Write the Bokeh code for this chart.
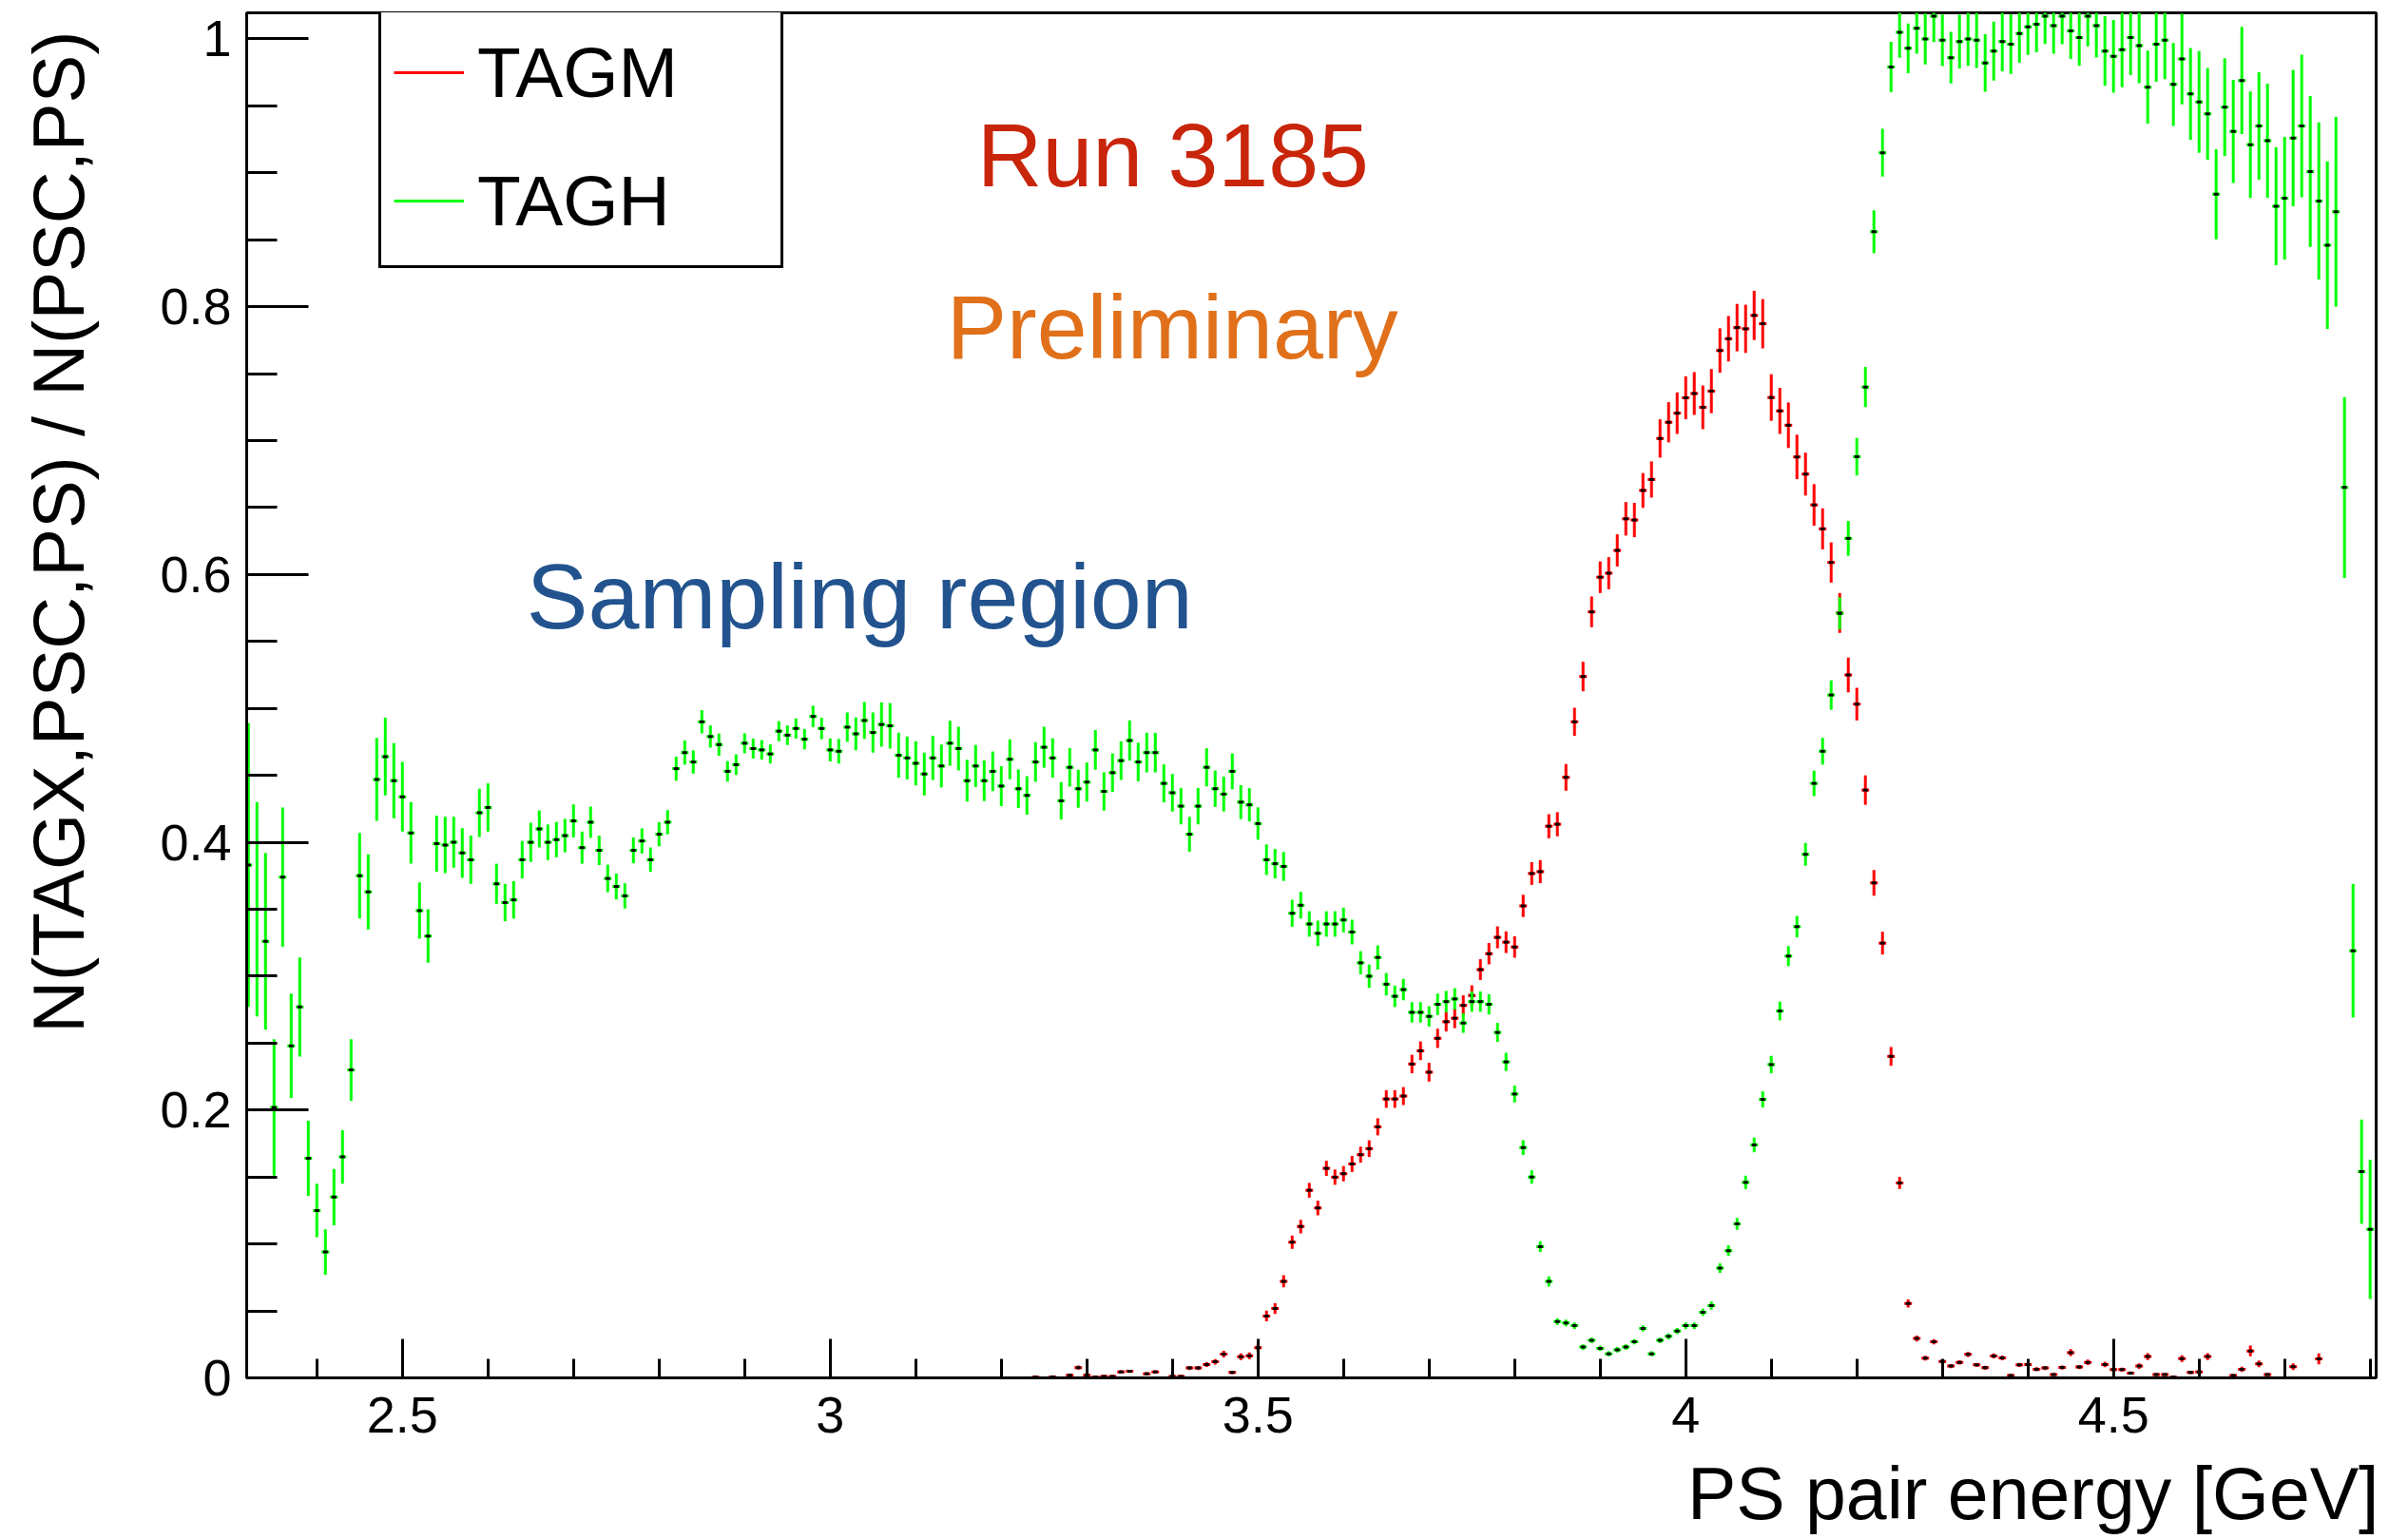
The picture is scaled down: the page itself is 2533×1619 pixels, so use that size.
import math
from bokeh.plotting import figure
from bokeh.models import (Range1d, FixedTicker, CustomJSTickFormatter, Label,
                          Legend, LegendItem, ColumnDataSource, Title)
from bokeh.embed import file_html
from bokeh.resources import INLINE

FONT = "Liberation Sans"

# ---------------- data ----------------
tagh_energy = [
    2.32, 2.33, 2.34, 2.35, 2.36, 2.37, 2.38, 2.39, 2.40, 2.41,
    2.42, 2.43, 2.44, 2.45, 2.46, 2.47, 2.48, 2.49, 2.50, 2.51,
    2.52, 2.53, 2.54, 2.55, 2.56, 2.57, 2.58, 2.59, 2.60, 2.61,
    2.62, 2.63, 2.64, 2.65, 2.66, 2.67, 2.68, 2.69, 2.70, 2.71,
    2.72, 2.73, 2.74, 2.75, 2.76, 2.77, 2.78, 2.79, 2.80, 2.81,
    2.82, 2.83, 2.84, 2.85, 2.86, 2.87, 2.88, 2.89, 2.90, 2.91,
    2.92, 2.93, 2.94, 2.95, 2.96, 2.97, 2.98, 2.99, 3.00, 3.01,
    3.02, 3.03, 3.04, 3.05, 3.06, 3.07, 3.08, 3.09, 3.10, 3.11,
    3.12, 3.13, 3.14, 3.15, 3.16, 3.17, 3.18, 3.19, 3.20, 3.21,
    3.22, 3.23, 3.24, 3.25, 3.26, 3.27, 3.28, 3.29, 3.30, 3.31,
    3.32, 3.33, 3.34, 3.35, 3.36, 3.37, 3.38, 3.39, 3.40, 3.41,
    3.42, 3.43, 3.44, 3.45, 3.46, 3.47, 3.48, 3.49, 3.50, 3.51,
    3.52, 3.53, 3.54, 3.55, 3.56, 3.57, 3.58, 3.59, 3.60, 3.61,
    3.62, 3.63, 3.64, 3.65, 3.66, 3.67, 3.68, 3.69, 3.70, 3.71,
    3.72, 3.73, 3.74, 3.75, 3.76, 3.77, 3.78, 3.79, 3.80, 3.81,
    3.82, 3.83, 3.84, 3.85, 3.86, 3.87, 3.88, 3.89, 3.90, 3.91,
    3.92, 3.93, 3.94, 3.95, 3.96, 3.97, 3.98, 3.99, 4.00, 4.01,
    4.02, 4.03, 4.04, 4.05, 4.06, 4.07, 4.08, 4.09, 4.10, 4.11,
    4.12, 4.13, 4.14, 4.15, 4.16, 4.17, 4.18, 4.19, 4.20, 4.21,
    4.22, 4.23, 4.24, 4.25, 4.26, 4.27, 4.28, 4.29, 4.30, 4.31,
    4.32, 4.33, 4.34, 4.35, 4.36, 4.37, 4.38, 4.39, 4.40, 4.41,
    4.42, 4.43, 4.44, 4.45, 4.46, 4.47, 4.48, 4.49, 4.50, 4.51,
    4.52, 4.53, 4.54, 4.55, 4.56, 4.57, 4.58, 4.59, 4.60, 4.61,
    4.62, 4.63, 4.64, 4.65, 4.66, 4.67, 4.68, 4.69, 4.70, 4.71,
    4.72, 4.73, 4.74, 4.75, 4.76, 4.77, 4.78, 4.79, 4.80,
]
tagh_ratio = [
    0.383, 0.350, 0.326, 0.202, 0.374, 0.248, 0.277, 0.164, 0.125, 0.094,
    0.135, 0.165, 0.230, 0.375, 0.363, 0.447, 0.464, 0.446, 0.434, 0.407,
    0.349, 0.330, 0.399, 0.398, 0.400, 0.392, 0.387, 0.422, 0.426, 0.369,
    0.355, 0.357, 0.387, 0.400, 0.410, 0.400, 0.402, 0.405, 0.416, 0.396,
    0.415, 0.394, 0.373, 0.367, 0.360, 0.394, 0.401, 0.387, 0.406, 0.415,
    0.455, 0.467, 0.460, 0.490, 0.479, 0.473, 0.453, 0.458, 0.474, 0.470,
    0.469, 0.466, 0.483, 0.480, 0.485, 0.477, 0.494, 0.485, 0.469, 0.468,
    0.486, 0.481, 0.491, 0.482, 0.488, 0.487, 0.465, 0.463, 0.459, 0.451,
    0.463, 0.457, 0.474, 0.470, 0.446, 0.457, 0.446, 0.453, 0.442, 0.462,
    0.440, 0.435, 0.460, 0.471, 0.463, 0.431, 0.456, 0.440, 0.445, 0.469,
    0.438, 0.452, 0.461, 0.476, 0.460, 0.467, 0.467, 0.444, 0.437, 0.427,
    0.406, 0.427, 0.456, 0.440, 0.436, 0.453, 0.430, 0.428, 0.414, 0.387,
    0.384, 0.382, 0.347, 0.353, 0.339, 0.332, 0.339, 0.339, 0.342, 0.333,
    0.310, 0.300, 0.314, 0.294, 0.285, 0.290, 0.273, 0.273, 0.270, 0.279,
    0.281, 0.283, 0.265, 0.281, 0.281, 0.279, 0.258, 0.236, 0.212, 0.172,
    0.150, 0.098, 0.072, 0.042, 0.041, 0.039, 0.023, 0.028, 0.022, 0.018,
    0.021, 0.023, 0.027, 0.037, 0.018, 0.028, 0.031, 0.035, 0.039, 0.039,
    0.049, 0.054, 0.082, 0.095, 0.115, 0.146, 0.174, 0.208, 0.234, 0.274,
    0.315, 0.337, 0.391, 0.444, 0.468, 0.510, 0.571, 0.627, 0.688, 0.740,
    0.856, 0.915, 0.979, 1.005, 0.993, 1.008, 1.000, 1.017, 0.999, 0.986,
    0.998, 1.000, 0.999, 0.982, 0.991, 0.998, 0.996, 1.004, 1.009, 1.011,
    1.017, 1.010, 1.017, 1.006, 1.001, 1.017, 1.010, 0.991, 0.987, 0.992,
    1.001, 0.995, 0.964, 0.996, 0.999, 0.966, 0.985, 0.959, 0.953, 0.944,
    0.884, 0.949, 0.931, 0.969, 0.921, 0.935, 0.924, 0.875, 0.881, 0.926,
    0.935, 0.901, 0.879, 0.846, 0.871, 0.665, 0.319, 0.154, 0.111,
]
tagh_error = [
    0.106, 0.080, 0.066, 0.051, 0.052, 0.039, 0.037, 0.028, 0.020, 0.017,
    0.021, 0.020, 0.023, 0.032, 0.028, 0.031, 0.029, 0.028, 0.026, 0.023,
    0.021, 0.020, 0.021, 0.021, 0.019, 0.0185, 0.018, 0.018, 0.018, 0.015,
    0.014, 0.014, 0.014, 0.0146, 0.0138, 0.0133, 0.0132, 0.0125, 0.0123, 0.012,
    0.0117, 0.011, 0.0103, 0.0097, 0.0094, 0.0097, 0.0094, 0.0091, 0.009, 0.009,
    0.009, 0.009, 0.0087, 0.0087, 0.0083, 0.0083, 0.0077, 0.0077, 0.0075, 0.0075,
    0.0073, 0.0071, 0.0075, 0.0073, 0.0075, 0.0076, 0.008, 0.008, 0.0086, 0.0092,
    0.011, 0.0123, 0.0138, 0.015, 0.0166, 0.017, 0.0168, 0.016, 0.0165, 0.016,
    0.0165, 0.016, 0.0168, 0.0163, 0.0156, 0.0157, 0.0152, 0.0148, 0.0149, 0.0149,
    0.0144, 0.0144, 0.0148, 0.0153, 0.0147, 0.014, 0.0144, 0.0142, 0.0146, 0.0148,
    0.0143, 0.0144, 0.0144, 0.015, 0.0144, 0.0148, 0.0148, 0.0142, 0.014, 0.0136,
    0.013, 0.0136, 0.0142, 0.0136, 0.013, 0.0134, 0.0127, 0.0124, 0.0121, 0.0114,
    0.011, 0.0108, 0.0101, 0.010, 0.0095, 0.0095, 0.0095, 0.0095, 0.0092, 0.0092,
    0.0087, 0.0087, 0.009, 0.0084, 0.008, 0.008, 0.0076, 0.0076, 0.0076, 0.008,
    0.008, 0.008, 0.0073, 0.0076, 0.0076, 0.0076, 0.0071, 0.0068, 0.0063, 0.0055,
    0.005, 0.004, 0.0038, 0.0024, 0.0024, 0.0024, 0.002, 0.002, 0.002, 0.0018,
    0.002, 0.002, 0.002, 0.0022, 0.0018, 0.002, 0.0022, 0.0022, 0.0024, 0.0024,
    0.0027, 0.003, 0.0035, 0.004, 0.0045, 0.005, 0.0055, 0.006, 0.0065, 0.007,
    0.0075, 0.008, 0.0085, 0.0095, 0.010, 0.011, 0.012, 0.013, 0.014, 0.015,
    0.016, 0.0178, 0.0188, 0.019, 0.0185, 0.019, 0.019, 0.0194, 0.0193, 0.0193,
    0.020, 0.020, 0.0206, 0.0215, 0.022, 0.0222, 0.0222, 0.0218, 0.021, 0.021,
    0.0208, 0.021, 0.021, 0.021, 0.021, 0.0225, 0.0239, 0.026, 0.0272, 0.028,
    0.028, 0.028, 0.0272, 0.028, 0.029, 0.031, 0.0338, 0.0343, 0.038, 0.0343,
    0.0336, 0.0366, 0.0385, 0.040, 0.0398, 0.0401, 0.0426, 0.044, 0.0458, 0.0509,
    0.0532, 0.0563, 0.0586, 0.0625, 0.0708, 0.0675, 0.050, 0.039, 0.052,
]

tagm_energy = [
    3.24, 3.26, 3.28, 3.29, 3.30, 3.31, 3.32, 3.33, 3.34, 3.35,
    3.37, 3.38, 3.40, 3.41, 3.42, 3.43, 3.44, 3.45, 3.46, 3.47,
    3.48, 3.49, 3.50, 3.51, 3.52, 3.53, 3.54, 3.55, 3.56, 3.57,
    3.58, 3.59, 3.60, 3.61, 3.62, 3.63, 3.64, 3.65, 3.66, 3.67,
    3.68, 3.69, 3.70, 3.71, 3.72, 3.73, 3.74, 3.75, 3.76, 3.77,
    3.78, 3.79, 3.80, 3.81, 3.82, 3.83, 3.84, 3.85, 3.86, 3.87,
    3.88, 3.89, 3.90, 3.91, 3.92, 3.93, 3.94, 3.95, 3.96, 3.97,
    3.98, 3.99, 4.00, 4.01, 4.02, 4.03, 4.04, 4.05, 4.06, 4.07,
    4.08, 4.09, 4.10, 4.11, 4.12, 4.13, 4.14, 4.15, 4.16, 4.17,
    4.18, 4.19, 4.20, 4.21, 4.22, 4.23, 4.24, 4.25, 4.26, 4.27,
    4.28, 4.29, 4.30, 4.31, 4.32, 4.33, 4.34, 4.35, 4.36, 4.37,
    4.38, 4.39, 4.40, 4.41, 4.42, 4.43, 4.44, 4.45, 4.46, 4.47,
    4.49, 4.50, 4.51, 4.52, 4.53, 4.54, 4.55, 4.56, 4.57, 4.58,
    4.59, 4.60, 4.61, 4.64, 4.65, 4.66, 4.67, 4.68, 4.71, 4.74,
]
tagm_ratio = [
    0.0005, 0.0007, 0.0019, 0.0077, 0.0019, 0.0005, 0.0010, 0.0010, 0.0044, 0.0049,
    0.0030, 0.0044, 0.0010, 0.0010, 0.0074, 0.0074, 0.0100, 0.0120, 0.0178, 0.0040,
    0.0158, 0.0165, 0.0226, 0.0462, 0.0518, 0.0721, 0.1013, 0.1130, 0.1401, 0.1269,
    0.1565, 0.1499, 0.1525, 0.1598, 0.1667, 0.1712, 0.1875, 0.2083, 0.2083, 0.2105,
    0.2344, 0.2443, 0.2283, 0.2536, 0.2660, 0.2686, 0.2782, 0.2856, 0.3049, 0.3168,
    0.3290, 0.3254, 0.3218, 0.3525, 0.3767, 0.3781, 0.4120, 0.4135, 0.4485, 0.4900,
    0.5238, 0.5721, 0.5980, 0.6010, 0.6180, 0.6416, 0.6407, 0.6628, 0.6710, 0.7016,
    0.7137, 0.7205, 0.7320, 0.7352, 0.7249, 0.7370, 0.7673, 0.7761, 0.7844, 0.7835,
    0.7935, 0.7873, 0.7322, 0.7222, 0.7115, 0.6878, 0.6750, 0.6520, 0.6341, 0.6090,
    0.5713, 0.5250, 0.5032, 0.4390, 0.3697, 0.3247, 0.2401, 0.1456, 0.0555, 0.0294,
    0.0147, 0.0270, 0.0123, 0.0088, 0.0116, 0.0175, 0.0097, 0.0076, 0.0164, 0.0149,
    0.0017, 0.0097, 0.0100, 0.0064, 0.0074, 0.0024, 0.0078, 0.0189, 0.0081, 0.0116,
    0.0100, 0.0062, 0.0062, 0.0036, 0.0088, 0.0159, 0.0024, 0.0024, 0.0005, 0.0144,
    0.0041, 0.0045, 0.0159, 0.0017, 0.0064, 0.0201, 0.0105, 0.0024, 0.0083, 0.0142,
]
tagm_error = [
    0.0008, 0.0008, 0.001, 0.0015, 0.001, 0.0008, 0.001, 0.001, 0.0012, 0.0012,
    0.0012, 0.0012, 0.001, 0.001, 0.0015, 0.0015, 0.0018, 0.002, 0.0025, 0.0012,
    0.0025, 0.0025, 0.003, 0.004, 0.004, 0.0045, 0.005, 0.005, 0.0055, 0.0055,
    0.0057, 0.0057, 0.0057, 0.006, 0.006, 0.0062, 0.0064, 0.0066, 0.0066, 0.0067,
    0.0069, 0.007, 0.007, 0.0072, 0.0073, 0.0074, 0.0075, 0.0076, 0.0078, 0.008,
    0.0082, 0.0081, 0.008, 0.0083, 0.0085, 0.0086, 0.009, 0.009, 0.010, 0.0105,
    0.011, 0.0115, 0.0118, 0.012, 0.012, 0.0125, 0.0128, 0.013, 0.0135, 0.0143,
    0.015, 0.0155, 0.016, 0.016, 0.0163, 0.0165, 0.0166, 0.017, 0.0177, 0.018,
    0.0184, 0.0184, 0.0174, 0.0172, 0.017, 0.0166, 0.016, 0.0155, 0.0153, 0.015,
    0.0149, 0.013, 0.0122, 0.011, 0.0096, 0.0085, 0.007, 0.0045, 0.003, 0.0022,
    0.0018, 0.002, 0.0016, 0.0015, 0.0016, 0.0018, 0.0015, 0.0015, 0.0018, 0.0018,
    0.001, 0.0015, 0.0015, 0.0015, 0.0015, 0.001, 0.0015, 0.0025, 0.0015, 0.002,
    0.002, 0.0015, 0.0015, 0.0012, 0.002, 0.0025, 0.001, 0.001, 0.0008, 0.0025,
    0.0012, 0.0015, 0.0025, 0.001, 0.002, 0.004, 0.0025, 0.001, 0.0025, 0.004,
]

x_major_ticks = [2.5, 3.0, 3.5, 4.0, 4.5]
x_minor_ticks = [2.4, 2.6, 2.7, 2.8, 2.9, 3.1, 3.2, 3.3, 3.4, 3.6, 3.7, 3.8, 3.9,
                 4.1, 4.2, 4.3, 4.4, 4.6, 4.7, 4.8]
y_major_ticks = [0.0, 0.2, 0.4, 0.6, 0.8, 1.0]
y_minor_ticks = [0.05, 0.1, 0.15, 0.25, 0.3, 0.35, 0.45, 0.5, 0.55, 0.65, 0.7,
                 0.75, 0.85, 0.9, 0.95]

series_names = ["TAGM", "TAGH"]
series_colors = ["#ff0000", "#00ff00"]
x_title = "PS pair energy [GeV]"
y_title = "N(TAGX,PSC,PS) / N(PSC,PS)"


def make_source(x, y, e):
    return ColumnDataSource(dict(
        x=x, y=y,
        lo=[a - b for a, b in zip(y, e)],
        hi=[a + b for a, b in zip(y, e)],
    ))


p = figure(width=2533, height=1619, output_backend="svg", toolbar_location=None,
           x_range=Range1d(2.318, 4.807), y_range=Range1d(0.0, 1.0195),
           min_border_left=259, min_border_right=34, min_border_top=13,
           min_border_bottom=170)
p.background_fill_color = "white"
p.border_fill_color = "white"
p.outline_line_color = "black"
p.outline_line_width = 3
p.xgrid.visible = False
p.ygrid.visible = False

fmt = CustomJSTickFormatter(code="return String(tick);")

xa = p.xaxis[0]
xa.ticker = FixedTicker(ticks=x_major_ticks, minor_ticks=x_minor_ticks)
xa.formatter = fmt
xa.major_tick_in = 41
xa.major_tick_out = 0
xa.minor_tick_in = 20
xa.minor_tick_out = 0
xa.axis_line_width = 3
xa.major_tick_line_width = 3
xa.minor_tick_line_width = 3
xa.major_label_text_font = FONT
xa.major_label_text_font_size = "54px"
xa.major_label_text_color = "black"
xa.major_label_standoff = 20
# a blank axis label only reserves room between tick labels and the title
xa.axis_label = "\u00a0"
xa.axis_label_text_font_size = "1px"
xa.axis_label_standoff = 12

ya = p.yaxis[0]
ya.ticker = FixedTicker(ticks=y_major_ticks, minor_ticks=y_minor_ticks)
ya.formatter = fmt
ya.major_tick_in = 65
ya.major_tick_out = 0
ya.minor_tick_in = 32
ya.minor_tick_out = 0
ya.axis_line_width = 3
ya.major_tick_line_width = 3
ya.minor_tick_line_width = 3
ya.major_label_text_font = FONT
ya.major_label_text_font_size = "54px"
ya.major_label_text_color = "black"
ya.major_label_standoff = 16
ya.axis_label = "\u00a0"
ya.axis_label_text_font_size = "1px"
ya.axis_label_standoff = 57

# axis titles, ROOT style: placed at the far end of each axis
p.add_layout(Title(text=x_title, align="right", text_font=FONT,
                   text_font_size="77px", text_font_style="normal",
                   text_color="black", standoff=0, offset=-3), "below")
p.add_layout(Title(text=y_title, align="right", text_font=FONT,
                   text_font_size="76px", text_font_style="normal",
                   text_color="black", standoff=2, offset=19), "left")

renderers = []
for (xs, ys, es), col in zip([(tagm_energy, tagm_ratio, tagm_error),
                               (tagh_energy, tagh_ratio, tagh_error)], series_colors):
    src = make_source(xs, ys, es)
    r = p.segment(x0="x", y0="lo", x1="x", y1="hi", source=src,
                  line_color=col, line_width=3)
    p.rect(x="x", y="y", width=8, height=3, width_units="screen",
           height_units="screen", source=src, fill_color=col, line_color=None)
    p.rect(x="x", y="y", width=5, height=3, width_units="screen",
           height_units="screen", source=src, fill_color="black", line_color=None)
    renderers.append(r)

legend = Legend(items=[LegendItem(label=n, renderers=[r])
                       for n, r in zip(series_names, renderers)],
                location=(139, 1167))
legend.label_text_font = FONT
legend.label_text_font_size = "75px"
legend.label_text_color = "black"
legend.glyph_width = 74
legend.glyph_height = 110
legend.spacing = 25
legend.padding = 13
legend.margin = 0
legend.label_standoff = 14
legend.label_width = 306
legend.border_line_color = "black"
legend.border_line_alpha = 1.0
legend.border_line_width = 3
legend.background_fill_color = "white"
legend.background_fill_alpha = 1.0
p.add_layout(legend)

# annotations
p.add_layout(Label(x=3.1717, y=0.9137, text="Run 3185", text_font=FONT,
                   text_font_size="95px", text_color="#c8250b",
                   text_baseline="alphabetic", text_align="left"))
p.add_layout(Label(x=3.1361, y=0.7852, text="Preliminary", text_font=FONT,
                   text_font_size="95px", text_color="#e0701a",
                   text_baseline="alphabetic", text_align="left"))
p.add_layout(Label(x=2.645, y=0.5836, text="Sampling region", text_font=FONT,
                   text_font_size="97px", text_color="#22538e",
                   text_baseline="alphabetic", text_align="left"))

open("out.html", "w").write(file_html(p, INLINE))
